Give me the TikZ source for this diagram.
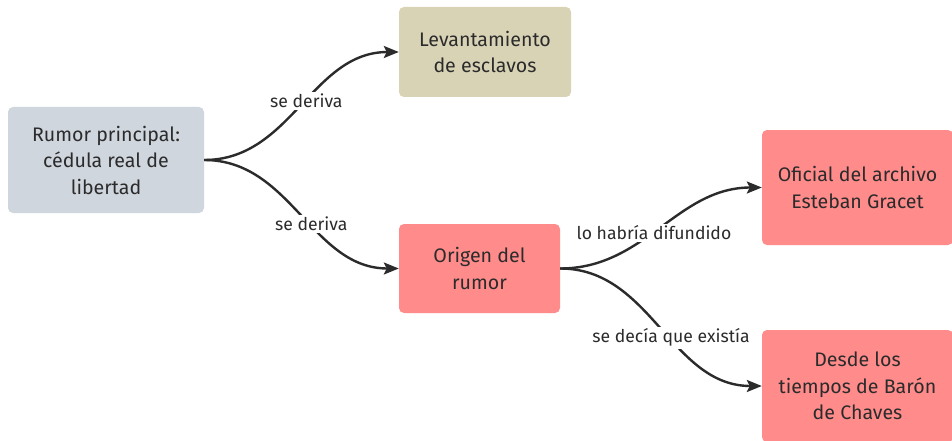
\documentclass[tikz,border=0pt]{standalone}
\usepackage{fontspec}
\setmainfont{Fira Sans}
\usepackage{xcolor}
\usepackage{tikz}
\usetikzlibrary{arrows.meta}
\definecolor{ink}{HTML}{2B2B2B}
\definecolor{slate}{HTML}{D0D6DE}
\definecolor{sand}{HTML}{D9D3B6}
\definecolor{rose}{HTML}{FF8B8B}
\tikzset{
  box/.style={rounded corners=5pt, inner sep=0pt, align=center, text=ink,
    font=\fontsize{19.6}{26.5}\selectfont},
  link/.style={draw=ink, line width=2.4pt, -{Stealth[length=15pt,width=12pt,inset=3pt]}},
  lab/.style={fill=white, text=ink, inner sep=2pt, font=\fontsize{17.6}{20}\selectfont}
}

\begin{document}
\begin{tikzpicture}[x=1pt,y=-1pt]
  \useasboundingbox[fill=white] (0,0) rectangle (952,441);

  \node[box, fill=slate, minimum width=196, minimum height=106] (rumor) at (106,160)
    {Rumor principal:\\cédula real de\\libertad};
  \node[box, fill=sand, minimum width=172, minimum height=90] (levant) at (485,52)
    {Levantamiento\\de esclavos};
  \node[box, fill=rose, minimum width=161, minimum height=89] (origen) at (479.5,268.5)
    {Origen del\\rumor};
  \node[box, fill=rose, minimum width=191, minimum height=115] (oficial) at (857.5,187.5)
    {Oficial del archivo\\Esteban Gracet};
  \node[box, fill=rose, minimum width=191, minimum height=112] (baron) at (857.5,386)
    {Desde los\\tiempos de Barón\\de Chaves};

  \draw[link] (rumor.east) to[out=0,in=180]
    node[lab, pos=0.53] {se deriva} (levant.west);
  \draw[link] (rumor.east) to[out=0,in=180]
    node[lab, pos=0.56] {se deriva} (origen.west);
  \draw[link] (origen.east) to[out=0,in=180]
    node[lab, pos=0.46] {lo habría difundido} (oficial.west);
  \draw[link] (origen.east) to[out=0,in=180]
    node[lab, pos=0.56] {se decía que existía} (baron.west);
\end{tikzpicture}
\end{document}
